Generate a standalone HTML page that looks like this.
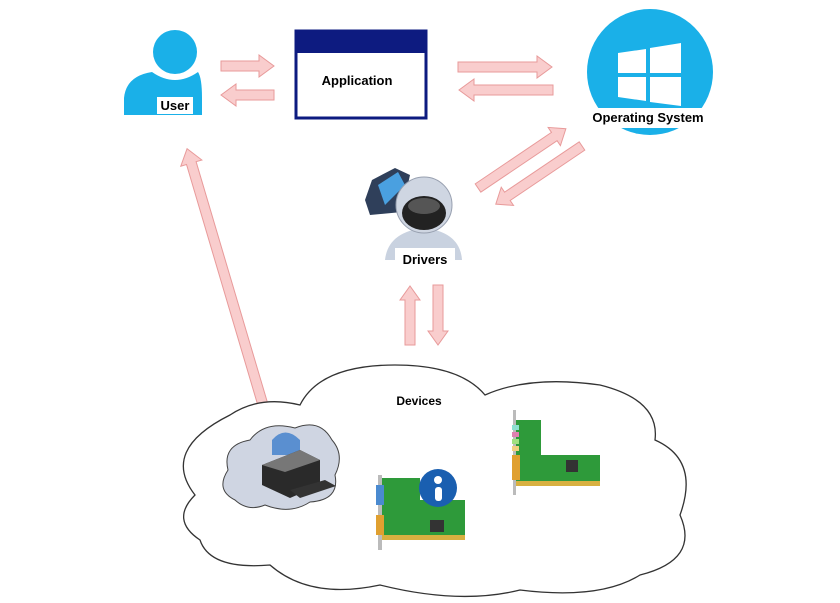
<!DOCTYPE html>
<html><head><style>body{margin:0;background:#fff}svg{display:block}text{font-family:"Liberation Sans",sans-serif;font-weight:bold}</style></head><body>
<svg width="840" height="603" viewBox="0 0 840 603" xmlns="http://www.w3.org/2000/svg">
<defs>
<g id="ar"><polygon points="0,-5 -14,-5 -14,5 0,5 0,11 0,11" /></g>
</defs>
<g fill="#f9cdcd" stroke="#e89a9a" stroke-width="1">
<!-- user->app -->
<polygon points="221,61 259,61 259,55 274,66 259,77 259,71 221,71"/>
<polygon points="274,90 236,90 236,84 221,95 236,106 236,100 274,100"/>
<!-- app<->os -->
<polygon points="458,62 537,62 537,56 552,67 537,78 537,72 458,72"/>
<polygon points="553,85 474,85 474,79 459,90 474,101 474,95 553,95"/>
<!-- diagonal up-right -->
<g transform="translate(478,188) rotate(-34)"><polygon points="0,-5 92,-5 92,-11 106,0 92,11 92,5 0,5"/></g>
<g transform="translate(582,146) rotate(146)"><polygon points="0,-5 90,-5 90,-11 104,0 90,11 90,5 0,5"/></g>
<!-- vertical -->
<polygon points="405,345 405,300 400,300 410,286 420,300 415,300 415,345"/>
<polygon points="433,285 433,331 428,331 438,345 448,331 443,331 443,285"/>
<!-- long arrow -->
<g transform="translate(268,422) rotate(-106.5)"><polygon points="0,-5 270,-5 270,-11 285,0 270,11 270,5 0,5"/></g>
</g>
<!-- user -->
<circle cx="175" cy="52" r="22" fill="#1ab0e8"/>
<path d="M124,115 L124,98 Q126,76 152,72 Q175,88 198,72 Q202,78 202,98 L202,115 Z" fill="#1ab0e8"/>
<rect x="157" y="97" width="36" height="17" fill="#fff"/>
<text x="175" y="110" font-size="13" text-anchor="middle">User</text>
<!-- app -->
<rect x="296" y="31" width="130" height="87" fill="#fff" stroke="#0d1b80" stroke-width="3"/>
<rect x="296" y="31" width="130" height="22" fill="#0d1b80"/>
<text x="357" y="85" font-size="13" text-anchor="middle">Application</text>
<!-- OS -->
<circle cx="650" cy="72" r="63" fill="#1ab0e8"/>
<polygon points="618,53 646,49 646,73 618,73" fill="#fff"/>
<polygon points="650,48 681,43 681,73 650,73" fill="#fff"/>
<polygon points="618,77 646,77 646,101 618,97" fill="#fff"/>
<polygon points="650,77 681,77 681,106 650,102" fill="#fff"/>
<rect x="588" y="108" width="122" height="20" fill="#fff"/>
<text x="648" y="122" font-size="13" text-anchor="middle">Operating System</text>
<!-- drivers -->
<g>
<path d="M365,200 L372,180 L395,168 L410,175 L402,212 L370,215 Z" fill="#2f3f5a"/>
<path d="M378,185 L398,172 L405,185 L385,205 Z" fill="#4aa0e0"/>
<path d="M385,260 Q388,232 424,228 Q460,232 462,260 Z" fill="#c9d2e0"/>
<circle cx="424" cy="205" r="28" fill="#cfd6e2" stroke="#98a0b0"/>
<ellipse cx="424" cy="213" rx="22" ry="17" fill="#222"/>
<ellipse cx="424" cy="206" rx="16" ry="8" fill="#555"/>
<rect x="395" y="248" width="60" height="18" fill="#fff"/>
<text x="425" y="264" font-size="13" text-anchor="middle">Drivers</text>
</g>
<!-- cloud -->
<path d="M200,540 Q170,520 195,495 Q160,450 230,415 Q260,395 300,405 Q320,365 395,365 Q460,365 485,395 Q530,375 600,385 Q660,400 655,440 Q700,460 680,515 Q700,560 640,575 Q600,600 520,590 Q460,605 380,585 Q310,600 270,565 Q210,570 200,540 Z" fill="#fff" stroke="#333" stroke-width="1.3"/>
<text x="419" y="405" font-size="12" text-anchor="middle">Devices</text>
<!-- printer cloud -->
<path d="M235,500 Q215,490 228,470 Q222,445 250,440 Q265,420 295,428 Q320,418 332,440 Q345,455 335,475 Q340,500 310,502 Q290,515 265,505 Q248,512 235,500 Z" fill="#cfd5e2" stroke="#444"/>
<path d="M272,440 Q285,425 300,440 L300,455 L272,455 Z" fill="#5a8fd0"/>
<polygon points="262,465 300,450 320,460 320,485 290,498 262,485" fill="#2a2a2a"/>
<polygon points="262,465 300,450 320,460 285,472" fill="#777"/>
<polygon points="290,490 325,480 336,486 300,498" fill="#333"/>
<!-- card 1 -->
<rect x="378" y="475" width="4" height="75" fill="#bbb"/>
<polygon points="382,478 420,478 420,500 465,500 465,540 382,540" fill="#2e9a3a"/>
<rect x="382" y="535" width="83" height="5" fill="#d8b040"/>
<rect x="376" y="485" width="8" height="20" fill="#4a8ad0"/>
<rect x="376" y="515" width="8" height="20" fill="#e0a030"/>
<rect x="430" y="520" width="14" height="12" fill="#333"/>
<circle cx="438" cy="488" r="19" fill="#1a5fb0"/>
<rect x="435" y="487" width="7" height="14" rx="3" fill="#fff"/>
<circle cx="438" cy="480" r="4" fill="#fff"/>
<!-- card 2 -->
<rect x="513" y="410" width="3" height="85" fill="#bbb"/>
<polygon points="516,420 541,420 541,455 600,455 600,485 516,485" fill="#2e9a3a"/>
<rect x="516" y="481" width="84" height="5" fill="#d8b040"/>
<rect x="512" y="425" width="7" height="5" fill="#8de0d0"/>
<rect x="512" y="432" width="7" height="5" fill="#e080b0"/>
<rect x="512" y="439" width="7" height="5" fill="#a0e080"/>
<rect x="512" y="446" width="7" height="5" fill="#f0d080"/>
<rect x="512" y="455" width="8" height="25" fill="#e0a030"/>
<rect x="566" y="460" width="12" height="12" fill="#333"/>
</svg>
</body></html>
